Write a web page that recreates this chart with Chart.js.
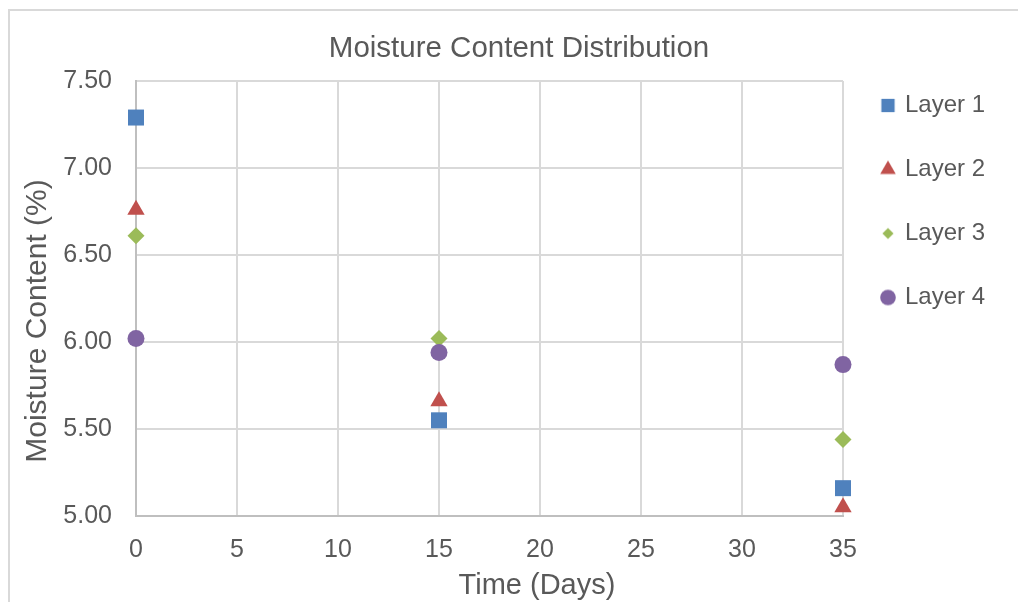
<!DOCTYPE html>
<html>
<head>
<meta charset="utf-8">
<script src="https://cdn.jsdelivr.net/npm/chart.js@4.4.1/dist/chart.umd.min.js"></script>
<style>
  html, body { margin: 0; padding: 0; background: #ffffff; overflow: hidden; }
  #frame { position: absolute; left: 8px; top: 9px; width: 1100px; height: 700px;
           border: 2px solid #d9d9d9; box-sizing: border-box; }
  #c { position: absolute; left: 0; top: 0; }
</style>
</head>
<body>
<div id="frame"></div>
<canvas id="c" width="1018" height="602"></canvas>
<script>
// Sampling days and moisture content (%) per layer
const days = [0, 15, 35];
const seriesNames = ['Layer 1', 'Layer 2', 'Layer 3', 'Layer 4'];
const layer1 = [7.29, 5.55, 5.16];
const layer2 = [6.76, 5.66, 5.05];
const layer3 = [6.61, 6.02, 5.44];
const layer4 = [6.02, 5.94, 5.87];
const xTicks = [0, 5, 10, 15, 20, 25, 30, 35];
const yTicks = [5.00, 5.50, 6.00, 6.50, 7.00, 7.50];
const xTitle = 'Time (Days)';
const yTitle = 'Moisture Content (%)';

const FONT = "'Liberation Sans', Arial, sans-serif";
const TEXT = '#595959';
Chart.defaults.font.family = FONT;
Chart.defaults.color = TEXT;

const styles = [
  { color: '#4f81bd', shape: 'rect',     radius: 11.3, legendRadius: 9.4 },
  { color: '#c0504d', shape: 'triangle', radius: 10,   legendRadius: 9 },
  { color: '#9bbb59', shape: 'rectRot',  radius: 8.5,  legendRadius: 5.6 },
  { color: '#8064a2', shape: 'circle',   radius: 8.5,  legendRadius: 7.8 }
];
const values = [layer1, layer2, layer3, layer4];

// Small legend symbols rendered with the library's own point drawing helper
function legendSymbol(st) {
  const helpers = Chart.helpers;
  if (!helpers || !helpers.drawPoint) return st.shape;
  const size = Math.ceil(st.legendRadius * 2) + 2;
  const cv = document.createElement('canvas');
  cv.width = size; cv.height = size;
  const ctx = cv.getContext('2d');
  ctx.fillStyle = st.color;
  helpers.drawPoint(ctx, { pointStyle: st.shape, rotation: 0, radius: st.legendRadius, borderWidth: 0 }, size / 2, size / 2);
  return cv;
}

// Axis titles, placed under and beside the plot
const axisTitles = {
  id: 'axisTitles',
  afterDraw(chart) {
    const ctx = chart.ctx;
    ctx.save();
    ctx.fillStyle = TEXT;
    ctx.textAlign = 'center';
    ctx.textBaseline = 'alphabetic';
    ctx.font = '29px ' + FONT;
    ctx.fillText(xTitle, 537, 594);
    ctx.font = '30px ' + FONT;
    ctx.translate(46, 321);
    ctx.rotate(-Math.PI / 2);
    ctx.fillText(yTitle, 0, 0);
    ctx.restore();
  }
};

const datasets = seriesNames.map((name, i) => ({
  label: name,
  data: days.map((d, k) => ({ x: d, y: values[i][k] })),
  pointStyle: styles[i].shape,
  pointRadius: styles[i].radius,
  pointHoverRadius: styles[i].radius,
  backgroundColor: styles[i].color,
  borderColor: styles[i].color,
  borderWidth: 0,
  showLine: false,
  clip: false,
  order: seriesNames.length - i
}));

new Chart(document.getElementById('c'), {
  type: 'scatter',
  data: { datasets },
  plugins: [axisTitles],
  options: {
    responsive: false,
    animation: false,
    layout: { padding: { top: 8, left: 48, right: 28, bottom: 0 } },
    plugins: {
      tooltip: { enabled: false },
      title: {
        display: true,
        text: 'Moisture Content Distribution',
        color: TEXT,
        font: { size: 29.5, weight: 'normal', family: FONT },
        padding: { top: 23.6, bottom: 14 }
      },
      legend: {
        position: 'right',
        align: 'start',
        maxWidth: 147,
        title: { display: true, text: '', font: { size: 24 }, padding: { top: 16.7, bottom: 0 } },
        labels: {
          usePointStyle: true,
          boxWidth: 10,
          padding: 40,
          color: TEXT,
          font: { size: 24, family: FONT },
          generateLabels: (chart) => chart.data.datasets.map((ds, i) => ({
            text: ds.label,
            fillStyle: styles[i].color,
            strokeStyle: styles[i].color,
            lineWidth: 0,
            pointStyle: legendSymbol(styles[i]),
            hidden: !chart.isDatasetVisible(i),
            datasetIndex: i
          }))
        }
      }
    },
    scales: {
      x: {
        type: 'linear',
        min: 0,
        max: 35,
        afterBuildTicks: (s) => { s.ticks = xTicks.map(v => ({ value: v })); },
        afterFit: (s) => { s.height = 86; },
        grid: { color: '#d9d9d9', lineWidth: 2, drawTicks: false },
        border: { color: '#bfbfbf', width: 2 },
        ticks: { padding: 19, color: TEXT, font: { size: 25 } }
      },
      y: {
        type: 'linear',
        min: 5,
        max: 7.5,
        afterBuildTicks: (s) => { s.ticks = yTicks.map(v => ({ value: v })); },
        afterFit: (s) => { s.width = 88; },
        grid: { color: '#d9d9d9', lineWidth: 2, drawTicks: false },
        border: { color: '#bfbfbf', width: 2 },
        ticks: { padding: 24, color: TEXT, font: { size: 25 }, callback: (v) => Number(v).toFixed(2) }
      }
    }
  }
});
</script>
</body>
</html>
